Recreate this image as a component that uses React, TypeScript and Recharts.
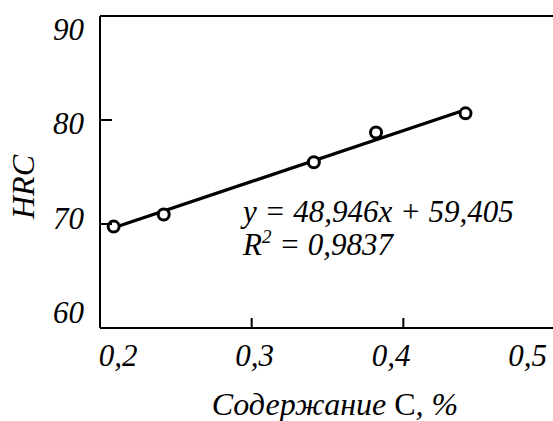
import React from 'react';
import { ScatterChart, Scatter, XAxis, YAxis, ReferenceLine } from 'recharts';

// measured samples: carbon content (%) vs hardness (HRC)
const carbon = [0.209, 0.242, 0.341, 0.382, 0.441];
const hardness = [69.75, 70.92, 75.94, 78.8, 80.64];

// linear trend y = 48,946x + 59,405 over the data range
const trendX = [0.209, 0.441];
const trendY = [69.63, 80.99];

const xTicks = [0.2, 0.3, 0.4, 0.5];
const xTickLabels = ['0,2', '0,3', '0,4', '0,5'];
const yTicks = [60, 70, 80, 90];
const yTickLabels = ['60', '70', '80', '90'];

const points = carbon.map((x, i) => ({ x, y: hardness[i] }));
const trend = trendX.map((x, i) => ({ x, y: trendY[i] }));

const textStyle: React.CSSProperties = {
  fontFamily: "'Liberation Serif', Tinos, 'Times New Roman', 'DejaVu Serif', serif",
  fontStyle: 'italic',
};

function XTick(props: any) {
  const { x, y, index } = props;
  return (
    <g>
      <line x1={x} y1={y} x2={x} y2={y - 10} stroke="#000" strokeWidth={2} />
      <text x={28 + 0.9 * x} y={366} textAnchor="middle" fontSize={31} fill="#000" style={textStyle}>
        {xTickLabels[index]}
      </text>
    </g>
  );
}

function YTick(props: any) {
  const { x, y, index } = props;
  return (
    <g>
      <line x1={x} y1={y} x2={x + 12} y2={y} stroke="#000" strokeWidth={2} />
      <text
        x={84}
        y={14.7 + 0.906 * y + 11}
        textAnchor="end"
        fontSize={31}
        fill="#000"
        style={textStyle}
      >
        {yTickLabels[index]}
      </text>
    </g>
  );
}

const Marker = (props: any) => (
  <circle cx={props.cx} cy={props.cy} r={5.5} fill="#fff" stroke="#000" strokeWidth={3} />
);

const NoMarker = () => <g />;

export default function App() {
  return (
    <div style={{ position: 'absolute', left: 0, top: 0, width: 553, height: 421, overflow: 'hidden', background: '#fff' }}>
      <ScatterChart width={555} height={421} margin={{ top: 16, right: 0, bottom: 0, left: 0 }}>
        <XAxis
          dataKey="x"
          type="number"
          domain={[0.2, 0.5]}
          ticks={xTicks}
          interval={0}
          height={93}
          axisLine={{ stroke: '#000', strokeWidth: 2 }}
          tickLine={false}
          tickSize={0}
          tickMargin={0}
          tick={<XTick />}
        />
        <YAxis
          dataKey="y"
          type="number"
          domain={[60, 90]}
          ticks={yTicks}
          interval={0}
          width={100}
          axisLine={{ stroke: '#000', strokeWidth: 2 }}
          tickLine={false}
          tickSize={0}
          tickMargin={0}
          tick={<YTick />}
        />
        <ReferenceLine y={90} stroke="#000" strokeWidth={2} />
        <Scatter
          data={trend}
          line={{ stroke: '#000', strokeWidth: 3.2 }}
          shape={<NoMarker />}
          isAnimationActive={false}
        />
        <Scatter data={points} shape={<Marker />} isAnimationActive={false} />
      </ScatterChart>

      <svg
        width={553}
        height={421}
        style={{ position: 'absolute', left: 0, top: 0, pointerEvents: 'none', ...textStyle }}
        fill="#000"
      >
        <text x={243} y={222} fontSize={31}>
          y = 48,946x + 59,405
        </text>
        <text x={243} y={255} fontSize={31}>
          <tspan>R</tspan>
          <tspan fontSize={19} dy={-12}>2</tspan>
          <tspan dy={12}> = 0,9837</tspan>
        </text>
        <text x={335} y={415} fontSize={32} textAnchor="middle">
          Содержание <tspan style={{ fontStyle: 'normal' }}>С</tspan>, %
        </text>
        <text
          x={23}
          y={187}
          fontSize={32}
          textAnchor="middle"
          dominantBaseline="central"
          transform="rotate(-90 23 187)"
        >
          HRC
        </text>
      </svg>
    </div>
  );
}
